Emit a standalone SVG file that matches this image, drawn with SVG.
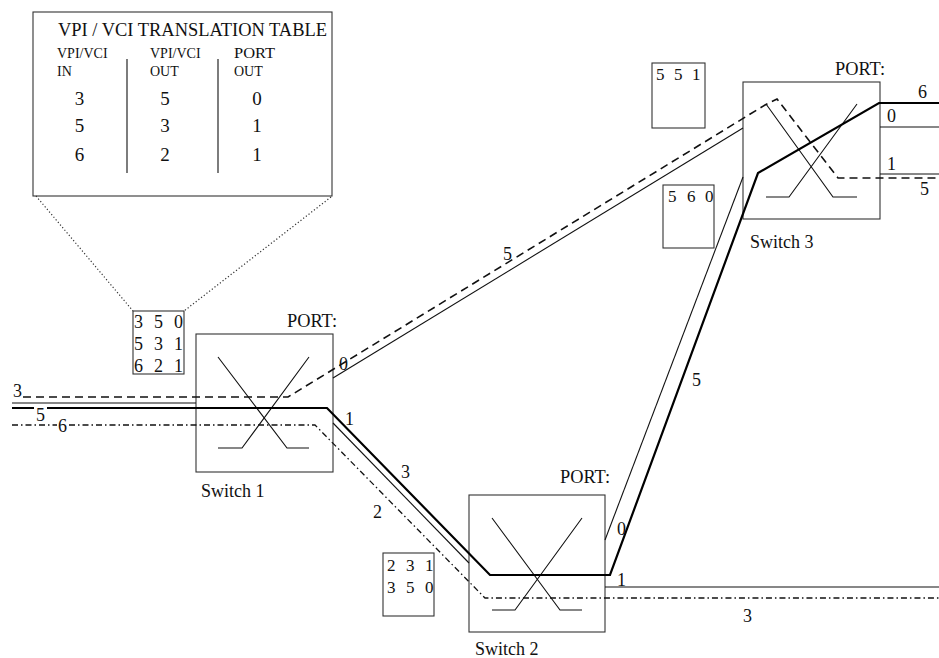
<svg xmlns="http://www.w3.org/2000/svg" width="939" height="658" viewBox="0 0 939 658">
<style>
.box{fill:none;stroke:#333;stroke-width:1.1}
.thin{fill:none;stroke:#111;stroke-width:1.1}
.thick{fill:none;stroke:#000;stroke-width:2.2}
.dash{fill:none;stroke:#111;stroke-width:1.6;stroke-dasharray:8 5}
.dashdot{fill:none;stroke:#111;stroke-width:1.3;stroke-dasharray:6 3 1.5 3}
.dot{fill:none;stroke:#333;stroke-width:1.2;stroke-dasharray:1.2 2.2}
text{font-family:"Liberation Serif","Times New Roman",serif;fill:#111}
.t17{font-size:18px}
.t16{font-size:17px}
.sw{font-size:18px}
.hd{font-size:14px}
.num{font-size:19px;text-anchor:middle}
</style>
<rect width="939" height="658" fill="#fff"/>

<g id="table">
<rect class="box" x="33" y="12" width="299" height="184"/>
<text x="58" y="36" font-size="19" textLength="269" lengthAdjust="spacingAndGlyphs">VPI / VCI TRANSLATION TABLE</text>
<text class="hd" x="57" y="58">VPI/VCI</text>
<text class="hd" x="57" y="76">IN</text>
<text class="hd" x="150" y="58">VPI/VCI</text>
<text class="hd" x="150" y="76">OUT</text>
<text class="hd" x="234" y="58" textLength="41" lengthAdjust="spacingAndGlyphs">PORT</text>
<text class="hd" x="234" y="76">OUT</text>
<line class="thin" x1="127" y1="59" x2="127" y2="173"/>
<line class="thin" x1="218" y1="59" x2="218" y2="173"/>
<text class="num" x="79.5" y="105">3</text>
<text class="num" x="165" y="105">5</text>
<text class="num" x="257" y="105">0</text>
<text class="num" x="79.5" y="132">5</text>
<text class="num" x="165" y="132">3</text>
<text class="num" x="257" y="132">1</text>
<text class="num" x="79.5" y="161">6</text>
<text class="num" x="165" y="161">2</text>
<text class="num" x="257" y="161">1</text>
</g>

<g id="zoom-lines">
<line class="dot" x1="36" y1="196" x2="133" y2="311"/>
<line class="dot" x1="331" y1="197" x2="184" y2="311"/>
</g>

<g id="box-s1">
<rect class="box" x="133" y="311" width="51" height="63"/>
<text class="t17" x="134 154 174" y="328">350</text>
<text class="t17" x="134 154 174" y="350">531</text>
<text class="t17" x="134 154 174" y="372">621</text>
</g>

<g id="switch1">
<rect class="box" x="196" y="334" width="137" height="138"/>
<polyline class="thin" points="218,357 287,448 309,448"/>
<polyline class="thin" points="309,357 242,448 218,448"/>
<text class="t17" x="287" y="327" textLength="50" lengthAdjust="spacingAndGlyphs">PORT:</text>
<text class="sw" x="201" y="497">Switch 1</text>
</g>

<g id="switch2">
<rect class="box" x="469" y="495" width="136" height="137"/>
<polyline class="thin" points="492,518 560,610 582,610"/>
<polyline class="thin" points="582,518 515,610 492,610"/>
<text class="t17" x="560" y="483" textLength="50" lengthAdjust="spacingAndGlyphs">PORT:</text>
<text class="sw" x="475" y="655">Switch 2</text>
</g>

<g id="box-s2">
<rect class="box" x="383" y="553" width="51" height="63"/>
<text class="t16" x="387 406 425" y="571">231</text>
<text class="t16" x="387 406 425" y="593">350</text>
</g>

<g id="switch3">
<rect class="box" x="743" y="82" width="137" height="137"/>
<polyline class="thin" points="766,104 833,197 857,197"/>
<polyline class="thin" points="857,104 789,197 766,197"/>
<text class="t17" x="835" y="75" textLength="50" lengthAdjust="spacingAndGlyphs">PORT:</text>
<text class="sw" x="750" y="248">Switch 3</text>
</g>

<g id="box-s3a">
<rect class="box" x="652" y="63" width="53" height="65"/>
<text class="t16" x="656 674 692" y="80">551</text>
</g>

<g id="box-s3b">
<rect class="box" x="663" y="185" width="51" height="63"/>
<text class="t16" x="668 687 705" y="202">560</text>
</g>

<g id="connectors">
<path class="dash" d="M23,397 H288 L765,105 L777,99 L838,178 H939"/>
<path class="thin" d="M333,378 L743,128"/>
<path class="thin" d="M12,403 H196"/>
<path class="thick" d="M12,408 H34 M47,408 H327 L490,575 H610 L758,173 L879,103 H939"/>
<path class="thin" d="M333,423 L469,563"/>
<path class="dashdot" d="M12,425 H57 M69,425 H315 L485,598 H939"/>
<path class="thin" d="M605,540 L743,177"/>
<path class="thin" d="M605,587 H939"/>
<path class="thin" d="M880,127 H939"/>
<path class="thin" d="M880,174 H939"/>
</g>

<g id="labels">
<text class="t17" x="13" y="397">3</text>
<text class="t17" x="36" y="421">5</text>
<text class="t17" x="58" y="432">6</text>
<text class="t17" x="339" y="370">0</text>
<text class="t17" x="345" y="425">1</text>
<text class="t17" x="401" y="478">3</text>
<text class="t17" x="373" y="518">2</text>
<text class="t17" x="503" y="260">5</text>
<text class="t17" x="617" y="535">0</text>
<text class="t17" x="617" y="586">1</text>
<text class="t17" x="692" y="386">5</text>
<text class="t17" x="743" y="622">3</text>
<text class="t17" x="918" y="98">6</text>
<text class="t17" x="887" y="122">0</text>
<text class="t17" x="887" y="170">1</text>
<text class="t17" x="920" y="195">5</text>
</g>
</svg>
